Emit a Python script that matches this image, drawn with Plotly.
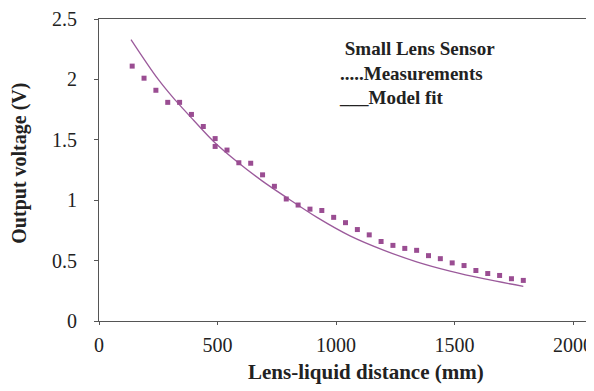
import plotly.graph_objects as go

meas_x = [140, 190, 240, 290, 340, 390, 440, 490, 490, 540, 590, 640, 690, 740, 790,
          840, 890, 940, 990, 1040, 1090, 1140, 1190, 1240, 1290, 1340, 1390, 1440,
          1490, 1540, 1590, 1640, 1690, 1740, 1790]
meas_y = [2.11, 2.01, 1.91, 1.81, 1.81, 1.71, 1.61, 1.51, 1.445, 1.415, 1.31, 1.306,
          1.21, 1.115, 1.01, 0.96, 0.926, 0.915, 0.858, 0.814, 0.757, 0.713, 0.658,
          0.626, 0.601, 0.585, 0.541, 0.516, 0.481, 0.459, 0.418, 0.393, 0.377, 0.35, 0.336]

# Model fit curve
fit_x = [135, 250, 321, 400, 487, 588, 688, 793, 918, 1059, 1200, 1340, 1481, 1622, 1790]
fit_y = [2.33, 2.0, 1.83, 1.66, 1.48, 1.31, 1.16, 1.02, 0.86, 0.705, 0.587, 0.49, 0.413, 0.35, 0.287]

x_ticks = [0, 500, 1000, 1500, 2000]
y_ticks = [0, 0.5, 1, 1.5, 2, 2.5]
y_tick_text = ["0", "0.5", "1", "1.5", "2", "2.5"]

legend_lines = ["&nbsp;Small Lens Sensor", ".....Measurements", "___Model fit"]
x_title = "Lens-liquid distance (mm)"
y_title = "Output voltage (V)"

SERIF = "Liberation Serif, Times New Roman, serif"
PURPLE = "#9a4d92"

fig = go.Figure()
fig.add_trace(go.Scatter(x=fit_x, y=fit_y, mode="lines", line_shape="spline",
                         line=dict(color="#9b5a9b", width=1.3), showlegend=False,
                         hoverinfo="skip"))
fig.add_trace(go.Scatter(x=meas_x, y=meas_y, mode="markers",
                         marker=dict(symbol="square", size=5, color=PURPLE,
                                     line=dict(width=0)),
                         showlegend=False))

fig.update_layout(
    width=594, height=391,
    margin=dict(l=91, r=0, t=8, b=78),
    paper_bgcolor="white", plot_bgcolor="white",
    font=dict(family=SERIF, size=20, color="#222"),
    xaxis=dict(range=[0, 2122], tickvals=x_ticks, showgrid=False, zeroline=False,
               showline=True, linecolor="#555", linewidth=1.2, mirror=True,
               ticks="outside", ticklen=3, tickcolor="#555",
               ticklabelstandoff=3, tickfont=dict(family=SERIF, size=20, color="#222")),
    yaxis=dict(range=[0, 2.5], tickvals=y_ticks, ticktext=y_tick_text, showgrid=False,
               zeroline=False, showline=True, linecolor="#555", linewidth=1.2,
               ticks="outside", ticklen=4, tickcolor="#555", ticklabeloverflow="allow",
               ticklabelstandoff=13, tickfont=dict(family=SERIF, size=20, color="#222")),
)

# Axis titles
fig.add_annotation(text="<b>" + x_title + "</b>", xref="paper", yref="paper",
                   x=0.531, y=-0.17, xanchor="center", yanchor="middle",
                   showarrow=False, font=dict(family=SERIF, size=21, color="#222"))
fig.add_annotation(text="<b>" + y_title + "</b>", xref="paper", yref="paper",
                   x=-0.157, y=0.521, xanchor="center", yanchor="middle", textangle=-90,
                   showarrow=False, font=dict(family=SERIF, size=20, color="#222"))

# Legend text block
fig.add_annotation(text="<b>" + "<br>".join(legend_lines) + "</b>", xref="paper",
                   yref="paper", x=0.4726, y=0.82, xanchor="left", yanchor="middle",
                   align="left", showarrow=False,
                   font=dict(family=SERIF, size=19, color="#222"))

fig.write_html("out.html")
